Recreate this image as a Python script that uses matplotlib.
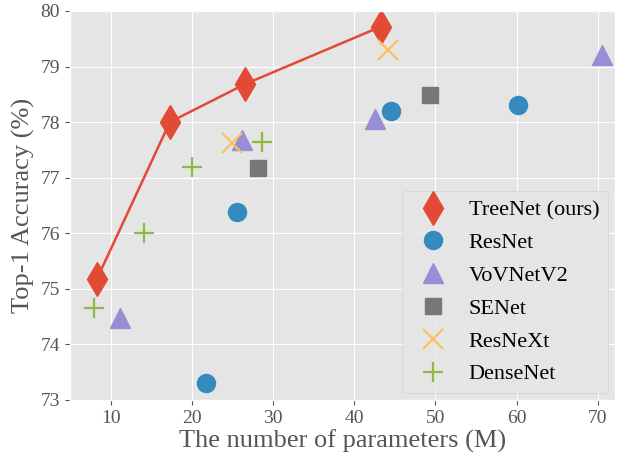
import matplotlib
matplotlib.use("Agg")
import matplotlib.pyplot as plt

plt.style.use("ggplot")
plt.rcParams['font.family'] = ['Liberation Serif', 'DejaVu Serif']

# params (M), top-1 accuracy (%)
treenet_x = [8.3, 17.3, 26.5, 43.3]
treenet_y = [75.17, 78.0, 78.68, 79.72]
resnet_x = [21.8, 25.6, 44.5, 60.2]
resnet_y = [73.3, 76.38, 78.2, 78.3]
vovnet_x = [11.2, 26.2, 42.5, 70.5]
vovnet_y = [74.48, 77.68, 78.05, 79.2]
senet_x = [28.1, 49.3]
senet_y = [77.18, 78.48]
resnext_x = [25.0, 44.2]
resnext_y = [77.62, 79.3]
densenet_x = [8.0, 14.1, 20.0, 28.7]
densenet_y = [74.65, 76.0, 77.2, 77.65]

fig = plt.figure(figsize=(6.19, 4.58), dpi=100)
ax = fig.add_subplot(111)
fig.subplots_adjust(left=0.113, right=0.9935, bottom=0.127, top=0.976)

ax.plot(treenet_x, treenet_y, '-', color='#E24A33', linewidth=1.8)
ax.plot(treenet_x, treenet_y, 'd', color='#E24A33', markersize=17, linestyle='none', label="TreeNet (ours)")
ax.plot(resnet_x, resnet_y, 'o', color='#348ABD', markersize=13, linestyle='none', label="ResNet")
ax.plot(vovnet_x, vovnet_y, '^', color='#988ED5', markersize=14, linestyle='none', label="VoVNetV2")
ax.plot(senet_x, senet_y, 's', color='#777777', markersize=12, linestyle='none', label="SENet")
ax.plot(resnext_x, resnext_y, 'x', color='#FBC15E', markersize=14, markeredgewidth=1.6, linestyle='none', label="ResNeXt")
ax.plot(densenet_x, densenet_y, '+', color='#8EBA42', markersize=15, markeredgewidth=1.6, linestyle='none', label="DenseNet")

ax.set_xlim(5, 72.1)
ax.set_ylim(73, 80)
ax.set_xticks([10, 20, 30, 40, 50, 60, 70])
ax.set_yticks([73, 74, 75, 76, 77, 78, 79, 80])
ax.tick_params(labelsize=14)
ax.set_xlabel("The number of parameters (M)", fontsize=19, labelpad=2)
ax.set_ylabel("Top-1 Accuracy (%)", fontsize=19, labelpad=4)
ax.legend(loc='lower right', fontsize=16, borderaxespad=0.3, labelspacing=0.55, handletextpad=0.6)

fig.savefig("out.png", dpi=100)
